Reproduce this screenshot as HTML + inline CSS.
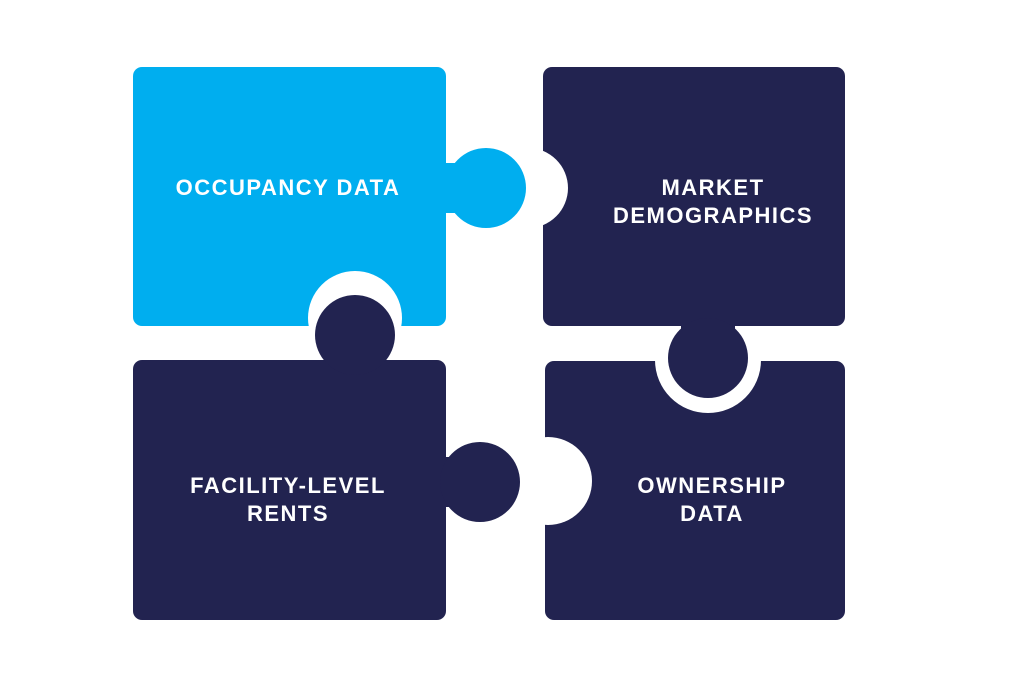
<!DOCTYPE html>
<html><head><style>
html,body{margin:0;padding:0;background:#fff;}
svg{display:block}
text{font-family:"Liberation Sans",sans-serif;font-weight:bold;font-size:22px;fill:#fff;letter-spacing:1.5px;text-anchor:middle}
</style></head><body>
<svg width="1024" height="683" viewBox="0 0 1024 683">
<rect x="545" y="361" width="300" height="259" rx="9" fill="#222350"/>
<circle cx="708" cy="360" r="53" fill="#fff"/>
<circle cx="548" cy="481" r="44" fill="#fff"/>
<rect x="133" y="360" width="313" height="260" rx="9" fill="#222350"/>
<rect x="133" y="67" width="313" height="259" rx="9" fill="#00AEEF"/>
<circle cx="355" cy="318" r="47" fill="#fff"/>
<rect x="543" y="67" width="302" height="259" rx="9" fill="#222350"/>
<circle cx="528" cy="188" r="40" fill="#fff"/>
<!-- knobs -->
<rect x="440" y="163" width="30" height="50" fill="#00AEEF"/>
<circle cx="486" cy="188" r="40" fill="#00AEEF"/>
<rect x="327" y="340" width="56" height="25" fill="#222350"/>
<circle cx="355" cy="335" r="40" fill="#222350"/>
<rect x="681" y="320" width="54" height="25" fill="#222350"/>
<circle cx="708" cy="358" r="40" fill="#222350"/>
<rect x="440" y="457" width="30" height="50" fill="#222350"/>
<circle cx="480" cy="482" r="40" fill="#222350"/>
<text x="288" y="195">OCCUPANCY DATA</text>
<text x="713" y="195">MARKET</text>
<text x="713" y="223">DEMOGRAPHICS</text>
<text x="288" y="493">FACILITY-LEVEL</text>
<text x="288" y="521">RENTS</text>
<text x="712" y="493">OWNERSHIP</text>
<text x="712" y="521">DATA</text>
</svg>
</body></html>
